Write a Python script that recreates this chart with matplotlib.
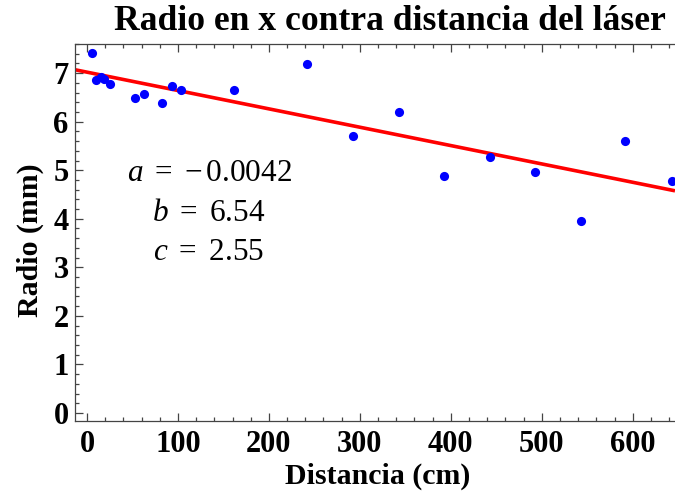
import numpy as np
import matplotlib
matplotlib.use("Agg")
import matplotlib.pyplot as plt

# ---- data ----
distancia = [5, 10, 15, 19, 25, 53, 63, 83, 93, 103, 162, 242, 293, 343, 393, 443, 493, 543, 592, 643]
radio = [7.42, 6.85, 6.93, 6.87, 6.78, 6.48, 6.56, 6.39, 6.74, 6.65, 6.66, 7.18, 5.71, 6.19,
         4.89, 5.27, 4.97, 3.95, 5.61, 4.77]
fit_intercept = 7.02
fit_slope = -0.00378
param_names = ["a", "b", "c"]
param_values = [r"{-}\,0.0042", "6.54", "2.55"]
title = "Radio en x contra distancia del láser"
xlabel = "Distancia (cm)"
ylabel = "Radio (mm)"
xticks = [0, 100, 200, 300, 400, 500, 600]
yticks = [0, 1, 2, 3, 4, 5, 6, 7]

plt.rcParams['font.family'] = ['Liberation Serif', 'DejaVu Serif']
plt.rcParams['mathtext.fontset'] = 'custom'
plt.rcParams['mathtext.rm'] = 'Liberation Serif'
plt.rcParams['mathtext.it'] = 'Liberation Serif:italic'
plt.rcParams['mathtext.bf'] = 'Liberation Serif:bold'

W, H = 675, 494
fig = plt.figure(figsize=(W / 100, H / 100), dpi=100)
ax = fig.add_axes([75 / W, 1 - 421 / H, 600 / W, (421 - 44) / H])

xlim = (-13.2, 646.5)
ylim = (-0.165, 7.594)

xl = np.array(xlim)
ax.plot(xl, fit_intercept + fit_slope * xl, color='#ff0000', lw=2.6, zorder=2, solid_capstyle='butt')
ax.plot(distancia, radio, 'o', color='#0000ff', markersize=6.6, markeredgewidth=0, zorder=3, clip_on=True)

ax.set_xlim(*xlim)
ax.set_ylim(*ylim)

frame_c = '#444444'
for s in ['left', 'bottom', 'top']:
    ax.spines[s].set_color(frame_c)
    ax.spines[s].set_linewidth(0.9)
ax.spines['right'].set_visible(False)

ax.set_xticks(xticks)
ax.set_yticks(yticks)
ax.set_xticks(np.arange(0, 641, 20), minor=True)
ax.set_yticks(np.arange(0, 7.61, 0.2), minor=True)
ax.tick_params(which='both', direction='in', top=True, right=False, color=frame_c, width=0.9)
ax.tick_params(which='major', length=5.5)
ax.tick_params(which='minor', length=3)
ax.tick_params(axis='x', which='major', pad=6.5)
ax.tick_params(axis='y', which='major', pad=4.5)
for lab in ax.get_xticklabels() + ax.get_yticklabels():
    lab.set_fontsize(22)
    lab.set_fontweight('bold')

fig.text(378 / W, 1 - 476 / H, xlabel, fontsize=21.5, fontweight='bold', ha='center', va='center')
fig.text(30 / W, 1 - 240 / H, ylabel, fontsize=21.5, fontweight='bold', ha='center', va='center',
         rotation=90)

fig.text(390 / W, 1 - 22 / H, title, fontsize=25.6, fontweight='bold', ha='center', va='center')

ys = [173, 213, 252]
for name, val, yy in zip(param_names, param_values, ys):
    fig.text(209 / W, 1 - yy / H, rf"${name}\ =\ {val}$", fontsize=22.5, ha='center', va='center')

fig.savefig("out.png", dpi=100)
